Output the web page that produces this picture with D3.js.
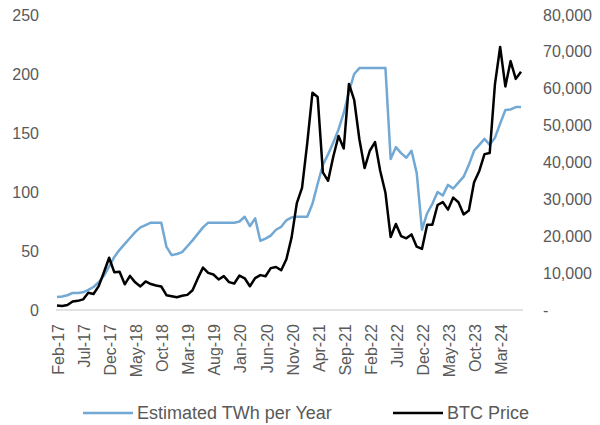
<!DOCTYPE html>
<html>
<head>
<meta charset="utf-8">
<script src="https://cdn.jsdelivr.net/npm/d3@7/dist/d3.min.js"></script>
<style>
  body { margin: 0; background: #fff; }
  text { font-family: "Liberation Sans", Arial, sans-serif; fill: #595959; }
</style>
</head>
<body>
<svg id="chart" width="600" height="425"></svg>
<script>
// monthly, Feb-17 .. Jul-24
var monNames = ["Jan","Feb","Mar","Apr","May","Jun","Jul","Aug","Sep","Oct","Nov","Dec"];
var months = [];
for (var k = 0; k < 90; k++) {
	var m = (1 + k) % 12, yr = 17 + Math.floor((1 + k) / 12);
	months.push(monNames[m] + "-" + yr);
}

var twh = [11, 11.5, 12.5, 14.5, 14.5, 15, 17, 19.5, 23.5, 29,
	37, 45, 51, 56, 61, 66, 70, 72, 74, 74,
	74, 53.5, 46.5, 47.5, 49, 54, 59, 64.5, 70, 74,
	74, 74, 74, 74, 74, 75, 79, 71, 77.7, 58.7,
	60.5, 63, 68, 70.5, 76, 78.5, 79, 79, 79, 90,
	107, 123, 132, 142, 153, 167, 185, 200, 205, 205,
	205, 205, 205, 205, 128, 138, 133, 129, 135, 116,
	68, 82, 90, 100, 97, 106, 103, 108, 113, 123,
	135, 140, 145, 140, 146, 158, 169.5, 170, 172, 172];

var btc = [1190, 1080, 1350, 2300, 2480, 2875, 4700, 4340, 6470, 10230,
	14160, 10220, 10400, 6970, 9240, 7500, 6400, 7730, 7040, 6630,
	6370, 4020, 3740, 3460, 3850, 4100, 5350, 8570, 11500, 10080,
	9630, 8290, 9200, 7570, 7190, 9350, 8600, 6440, 8660, 9460,
	9140, 11350, 11680, 10780, 13780, 19700, 29000, 33100, 45240, 58920,
	57750, 37330, 35040, 41630, 47170, 43790, 61320, 57010, 46310, 38480,
	43190, 45540, 37710, 31790, 19790, 23340, 20050, 19430, 20500, 17170,
	16550, 23140, 23150, 28480, 29270, 27220, 30480, 29230, 25930, 26970,
	34670, 37710, 42270, 42580, 61200, 71330, 60640, 67490, 62680, 64620];

var leftTicks = [0, 50, 100, 150, 200, 250];
var rightTicks = [0, 10000, 20000, 30000, 40000, 50000, 60000, 70000, 80000];

var svg = d3.select("#chart");

var x = d3.scaleLinear().domain([0, months.length - 1]).range([57, 521]);
var yL = d3.scaleLinear().domain([0, 250]).range([310, 15]);
var yR = d3.scaleLinear().domain([0, 80000]).range([310, 15]);

// axis line
svg.append("line")
	.attr("x1", 56).attr("x2", 523)
	.attr("y1", yL(0)).attr("y2", yL(0))
	.style("stroke", "#d9d9d9")
	.style("stroke-width", 1.3);

// left ticks
svg.selectAll(".lt")
	.data(leftTicks)
	.enter()
	.append("text")
	.attr("class", "lt")
	.attr("x", 39)
	.attr("y", function(d) { return yL(d); })
	.attr("text-anchor", "end")
	.attr("dominant-baseline", "central")
	.style("font-size", "16px")
	.text(function(d) { return d; });

// right ticks
var fmt = d3.format(",");
svg.selectAll(".rt")
	.data(rightTicks)
	.enter()
	.append("text")
	.attr("class", "rt")
	.attr("x", 543)
	.attr("y", function(d) { return yR(d); })
	.attr("dominant-baseline", "central")
	.style("font-size", "16px")
	.text(function(d) { return d === 0 ? "-" : fmt(d); });

// x labels every 5 months
svg.selectAll(".xl")
	.data(months.filter(function(d, i) { return i % 5 === 0; }))
	.enter()
	.append("text")
	.attr("class", "xl")
	.attr("transform", function(d) {
		var i = months.indexOf(d);
		return "translate(" + (x(i) + 1.5) + ",324) rotate(-90)";
	})
	.attr("text-anchor", "end")
	.attr("dominant-baseline", "central")
	.style("font-size", "16px")
	.text(function(d) { return d; });

var lineL = d3.line()
	.x(function(d, i) { return x(i); })
	.y(function(d) { return yL(d); });
var lineR = d3.line()
	.x(function(d, i) { return x(i); })
	.y(function(d) { return yR(d); });

svg.append("path")
	.datum(twh)
	.attr("d", lineL)
	.style("fill", "none")
	.style("stroke", "#72a8d4")
	.style("stroke-width", 2.5)
	.style("stroke-linejoin", "round");

svg.append("path")
	.datum(btc)
	.attr("d", lineR)
	.style("fill", "none")
	.style("stroke", "#000")
	.style("stroke-width", 2.5)
	.style("stroke-linejoin", "round");

// legend
var legend = [
	{ name: "Estimated TWh per Year", color: "#72a8d4", x: 83 },
	{ name: "BTC Price", color: "#000", x: 393 }
];
var lg = svg.selectAll(".lg")
	.data(legend)
	.enter()
	.append("g")
	.attr("class", "lg")
	.attr("transform", function(d) { return "translate(" + d.x + ",413)"; });
lg.append("line")
	.attr("x1", 0).attr("x2", 50)
	.style("stroke", function(d) { return d.color; })
	.style("stroke-width", 2.5);
lg.append("text")
	.attr("x", 54)
	.attr("dominant-baseline", "central")
	.style("font-size", "18px")
	.text(function(d) { return d.name; });
</script>
</body>
</html>
